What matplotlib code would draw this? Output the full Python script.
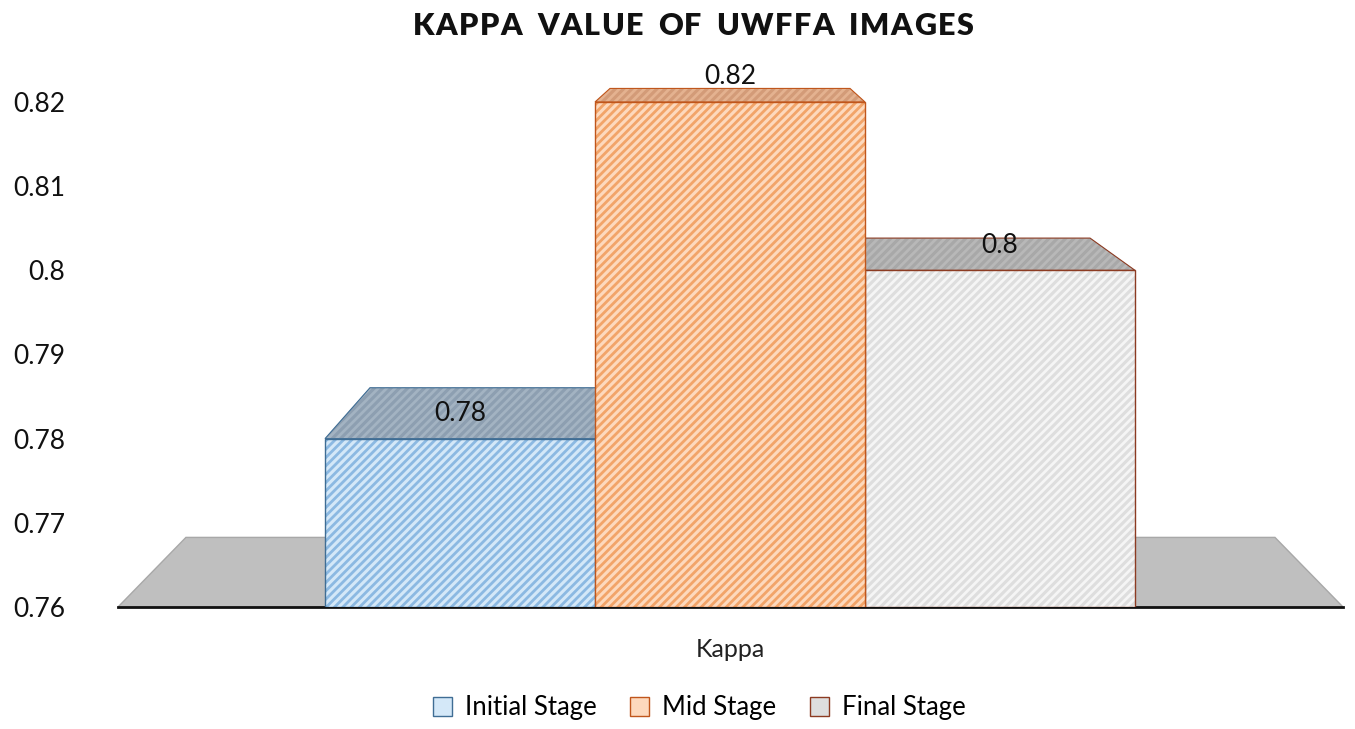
import matplotlib
matplotlib.use('Agg')
import matplotlib.pyplot as plt
from matplotlib.patches import Polygon, Patch

# data
stages = ['Initial Stage', 'Mid Stage', 'Final Stage']
kappa = [0.78, 0.82, 0.80]
value_labels = ['0.78', '0.82', '0.8']
yticks = [0.76, 0.77, 0.78, 0.79, 0.80, 0.81, 0.82]
ytick_labels = ['0.76', '0.77', '0.78', '0.79', '0.8', '0.81', '0.82']
category = 'Kappa'
title = 'KAPPA VALUE OF UWFFA IMAGES'

# styles
front_colors = ['#d4e8f8', '#fdd9bd', '#dedede']
hatch_colors = ['#8cb9e2', '#f2a469', '#f5f5f5']
top_colors = ['#8d9fb1', '#d39b78', '#a8a8a8']
top_hatch = ['#a3b3c2', '#e4b290', '#b8b8b8']
edge_colors = ['#3f6d94', '#c0561c', '#8c3b22']

base = 0.76
depth = 0.111          # how far the back face is pulled to the vanishing point
vx, vy = 1.0, 0.8345   # vanishing point, data coords

plt.rcParams['font.family'] = ['Lato', 'DejaVu Sans']
plt.rcParams['hatch.linewidth'] = 2.0


def back(x, y):
    return x + (vx - x) * depth, y + (vy - y) * depth


fig = plt.figure(figsize=(13.55, 7.29), dpi=100)
ax = fig.add_axes([118 / 1355, 1 - 607 / 729, 1225 / 1355, 567 / 729])
ax.set_xlim(1 - 612 / 270, 1 + 613 / 270)
ax.set_ylim(base, base + 567 / 8417)

# floor
x0, x1 = ax.get_xlim()
floor = [(x0, base), (x1, base), back(x1, base), back(x0, base)]
ax.add_patch(Polygon(floor, closed=True, facecolor='#bfbfbf', edgecolor='#a8a8a8',
                     linewidth=1, zorder=1))
ax.plot([x0, x1], [base, base], color='#111111', linewidth=2, zorder=2, clip_on=False)

# bars: the tall middle one last so it hides the others' inner sides
for i in [0, 2, 1]:
    left, right, top = i - 0.5, i + 0.5, kappa[i]
    roof = [(left, top), (right, top), back(right, top), back(left, top)]
    ax.add_patch(Polygon(roof, closed=True, facecolor=top_colors[i],
                         edgecolor=top_hatch[i], hatch='////', linewidth=0, zorder=3))
    ax.add_patch(Polygon(roof, closed=True, fill=False, edgecolor=edge_colors[i],
                         linewidth=0.8, zorder=3))
    ax.bar(i, top - base, bottom=base, width=1, color=front_colors[i],
           edgecolor=hatch_colors[i], hatch='////', linewidth=0, zorder=4)
    ax.bar(i, top - base, bottom=base, width=1, fill=False,
           edgecolor=edge_colors[i], linewidth=1, zorder=4)
    ax.annotate(value_labels[i], (i, top), xytext=(0, 18), textcoords='offset points',
                ha='center', va='center', fontsize=19, color='#111111', zorder=6)

ax.set_yticks(yticks)
ax.set_yticklabels(ytick_labels)
ax.set_xticks([1])
ax.set_xticklabels([category])
ax.tick_params(axis='y', length=0, pad=38, labelsize=19, labelcolor='#111111')
ax.tick_params(axis='x', length=0, pad=22, labelsize=18, labelcolor='#222222')
for s in ax.spines.values():
    s.set_visible(False)

# title with a little letter spacing, placed char by char
renderer = fig.canvas.get_renderer()
tracking = 1.5
widths = []
for ch in title:
    t = fig.text(0, 0, ch, fontsize=22, fontweight='heavy')
    widths.append(t.get_window_extent(renderer).width if ch != ' ' else 12)
    t.remove()
total = sum(widths) + tracking * (len(title) - 1)
x = 693 - total / 2
for ch, w in zip(title, widths):
    fig.text(x / 1355, 1 - 26 / 729, ch, fontsize=22, fontweight='heavy',
             color='#111111', va='center', ha='left')
    x += w + tracking

handles = [Patch(facecolor=front_colors[i], edgecolor=edge_colors[i], linewidth=1)
           for i in range(3)]
fig.legend(handles, stages, loc='center', bbox_to_anchor=(0.516, 0.029), ncol=3,
           frameon=False, fontsize=18.5, handlelength=0.75, handleheight=0.75,
           columnspacing=1.3, handletextpad=0.5)

fig.savefig('out.png', dpi=100)
